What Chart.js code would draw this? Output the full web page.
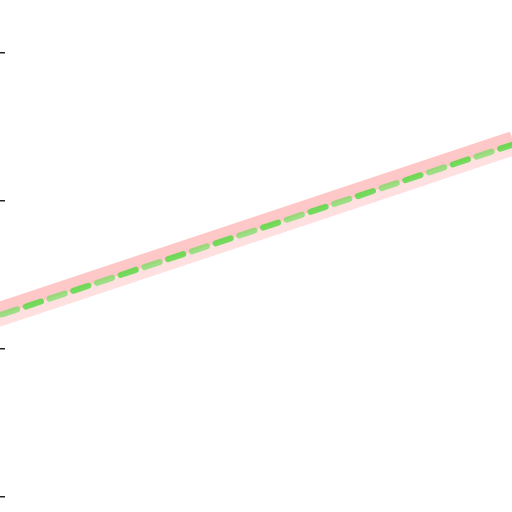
<!DOCTYPE html>
<html>
<head>
<meta charset="utf-8">
<script src="https://cdn.jsdelivr.net/npm/chart.js@4/dist/chart.umd.min.js"></script>
<style>
html,body{margin:0;padding:0;background:#fff;}
#wrap{width:512px;height:512px;}
</style>
</head>
<body>
<div id="wrap"><canvas id="c" width="512" height="512"></canvas></div>
<script>
const xValues = [0,1,2,3,4,5,6,7,8,9,10];
const greenSeries = [1.18,1.30,1.42,1.54,1.66,1.78,1.90,2.02,2.14,2.26,2.38];
const lightPinkSeries = [1.187,1.307,1.427,1.547,1.667,1.787,1.907,2.027,2.147,2.267,2.387];
const darkPinkSeries = [1.227,1.347,1.467,1.587,1.707,1.827,1.947,2.067,2.187,2.307,2.427];
const yTicks = [0,1,2,3];

function pts(ys){ return xValues.map((x,i)=>({x:x,y:ys[i]})); }

new Chart(document.getElementById('c'), {
  type: 'line',
  data: {
    datasets: [
      {data: pts(greenSeries), borderColor:'rgba(105,222,85,0.65)', borderWidth:6, borderDash:[16,34], borderDashOffset:25, borderCapStyle:'round', pointRadius:0, clip:false, tension:0, order:1},
      {data: pts(greenSeries), borderColor:'rgba(80,218,60,0.8)', borderWidth:6, borderDash:[16,34], borderCapStyle:'round', pointRadius:0, clip:false, tension:0, order:0},
      {data: pts(darkPinkSeries), borderColor:'#ffc8c8', borderWidth:13, pointRadius:0, clip:false, tension:0, order:2},
      {data: pts(lightPinkSeries), borderColor:'#ffe0e0', borderWidth:24, pointRadius:0, clip:false, tension:0, order:3}
    ]
  },
  options: {
    responsive:false,
    animation:false,
    layout:{padding:{top:53,bottom:15,left:0,right:0}},
    plugins:{legend:{display:false}, tooltip:{enabled:false}},
    scales:{
      x:{type:'linear', min:0.5, max:10, display:false},
      y:{type:'linear', min:0, max:3,
         afterBuildTicks:(s)=>{ s.ticks = yTicks.map(v=>({value:v})); },
         border:{display:false},
         grid:{drawOnChartArea:false, drawTicks:true, tickLength:5, color:'#222', lineWidth:1.5},
         ticks:{display:false}
      }
    }
  }
});
</script>
</body>
</html>
